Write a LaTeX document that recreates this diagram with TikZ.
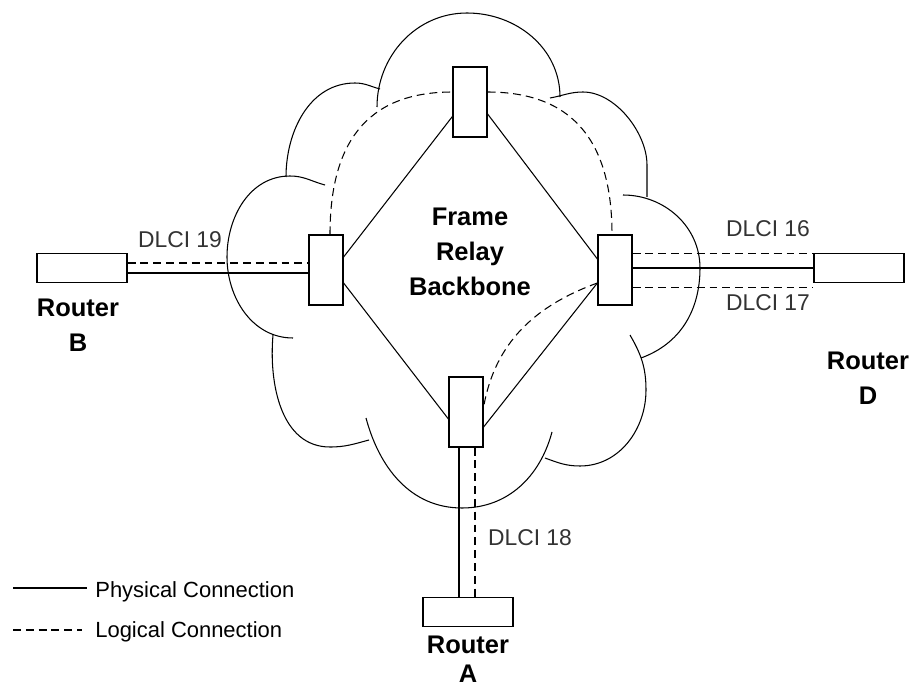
\documentclass[tikz,border=0pt]{standalone}
\usepackage{fontspec}
\setmainfont{Liberation Sans}
\usetikzlibrary{positioning}
\definecolor{lblgray}{HTML}{333333}

\begin{document}
\begin{tikzpicture}[x=0.02cm, y=0.02cm,
  swbox/.style={draw, line width=0.7pt, minimum width=0.68cm, minimum height=1.4cm, inner sep=0pt},
  rtbox/.style={draw, line width=0.7pt, minimum width=1.8cm, minimum height=0.58cm, inner sep=0pt},
  phys/.style={line width=0.6pt},
  logic/.style={line width=0.6pt, dash pattern=on 4.5pt off 2.8pt},
  cloudline/.style={line width=0.6pt},
  dlci/.style={text=lblgray, font=\fontsize{13}{15}\selectfont, inner sep=0pt},
  rtname/.style={font=\fontsize{14.5}{20}\selectfont\bfseries, align=center, inner sep=0pt},
  legend/.style={font=\fontsize{12.5}{15}\selectfont, anchor=base west, inner sep=0pt}
]
  \useasboundingbox (0,0) rectangle (914,-686);

  \draw[cloudline] (286,-177) to[out=90,in=180] (355,-83) to[out=0,in=165] (380,-89);
  \draw[cloudline] (377,-107) to[out=90,in=180] (467,-13) to[out=0,in=90] (560,-97);
  \draw[cloudline] (550,-98) to[out=10,in=180] (583,-92) to[out=0,in=90,looseness=0.85] (647,-165) -- (647,-197);
  \draw[cloudline] (623,-195) to[out=0,in=90] (700,-268) to[out=-90,in=20] (641,-358);
  \draw[cloudline] (630,-335) to[out=-60,in=90] (646,-390) to[out=-90,in=0] (580,-466) to[out=180,in=-20] (545,-458);
  \draw[cloudline] (552,-432) to[out=-105,in=0] (462,-508) to[out=180,in=-75] (366,-418);
  \draw[cloudline] (273,-335) to[out=-95,in=180] (330,-447) to[out=0,in=195] (369,-440);
  \draw[cloudline] (325,-185) to[out=165,in=0] (290,-176) to[out=180,in=90] (227,-257) to[out=-90,in=180] (293,-338);

  \node[swbox] (swt) at (470,-102) {};
  \node[swbox] (swl) at (326,-270) {};
  \node[swbox] (swr) at (615,-270) {};
  \node[swbox] (swb) at (466,-412) {};
  \node[rtbox] (rb) at (82,-268) {};
  \node[rtbox] (rd) at (859,-268) {};
  \node[rtbox] (ra) at (468,-612) {};

  \node[rtname] (nb) at (78,-325) {Router\\B};
  \node[rtname] (nd) at (868,-378) {Router\\D};
  \node[rtname, font=\fontsize{14.5}{16.5}\selectfont\bfseries] (na) at (468,-659) {Router\\A};
  \node[rtname] (bb) at (470,-252) {Frame\\Relay\\Backbone};

  \node[dlci] (d19) at (180,-240) {DLCI 19};
  \node[dlci] (d16) at (768,-229) {DLCI 16};
  \node[dlci] (d17) at (768,-303) {DLCI 17};
  \node[dlci] (d18) at (530,-538) {DLCI 18};

  \node[legend] (lgp) at (95,-597) {Physical Connection};
  \node[legend] (lgl) at (95,-637) {Logical Connection};
  \draw[phys] ([xshift=-1.64cm, yshift=0.18cm]lgp.base west) -- ([xshift=-0.16cm, yshift=0.18cm]lgp.base west);
  \draw[logic] ([xshift=-1.64cm, yshift=0.14cm]lgl.base west) -- ([xshift=-0.26cm, yshift=0.14cm]lgl.base west);

  \draw[phys] ([yshift=-0.29cm]swt.west) -- ([yshift=0.26cm]swl.east);
  \draw[phys] ([yshift=-0.24cm]swt.east) -- ([yshift=0.22cm]swr.west);
  \draw[phys] ([yshift=-0.26cm]swl.east) -- ([yshift=-0.14cm]swb.west);
  \draw[phys] ([yshift=-0.26cm]swr.west) -- ([yshift=-0.3cm]swb.east);

  \draw[logic] ([xshift=0.08cm]swl.north) to[out=90,in=180,looseness=1.2] ([yshift=0.2cm]swt.west);
  \draw[logic] ([yshift=0.2cm]swt.east) to[out=0,in=90,looseness=1.2] ([xshift=-0.06cm]swr.north);
  \draw[logic] ([yshift=-0.26cm]swr.west) to[out=200,in=80] ([yshift=0.1cm]swb.east);

  \draw[phys] ([yshift=-0.1cm]rb.east) -- ([yshift=-0.1cm]rb.east -| swl.west);
  \draw[logic] ([yshift=0.1cm]rb.east) -- ([yshift=0.1cm]rb.east -| swl.west);

  \draw[phys] (swr.east |- rd.west) -- (rd.west);
  \draw[logic] ([yshift=0.33cm]swr.east) -- ([yshift=0.33cm]swr.east -| rd.west);
  \draw[logic] ([yshift=-0.35cm]swr.east) -- ([yshift=-0.35cm]swr.east -| rd.west);

  \draw[phys] ([xshift=-0.14cm]swb.south) -- ([xshift=-0.14cm]swb.south |- ra.north);
  \draw[logic] ([xshift=0.18cm]swb.south) -- ([xshift=0.18cm]swb.south |- ra.north);
\end{tikzpicture}
\end{document}
